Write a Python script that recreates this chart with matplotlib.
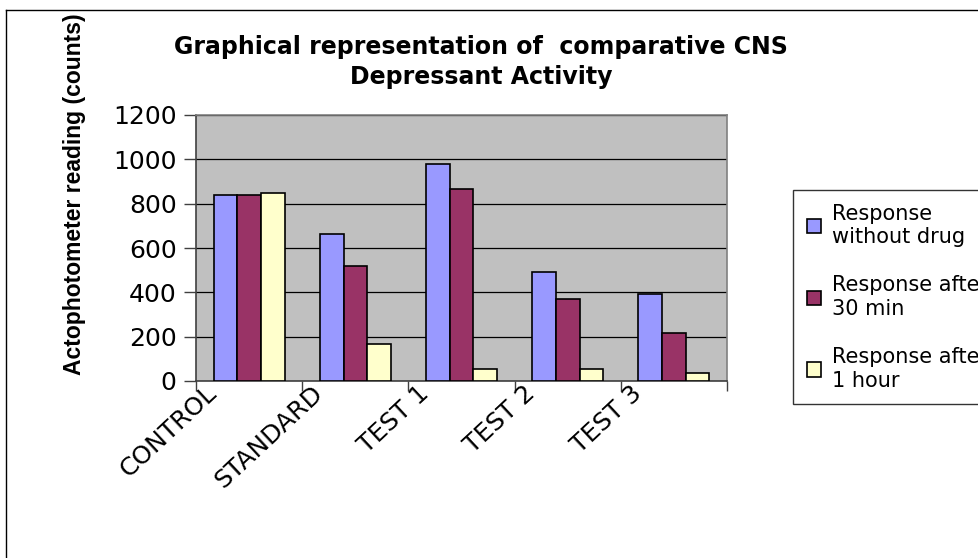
import matplotlib
matplotlib.use("Agg")
import matplotlib.pyplot as plt
import matplotlib.transforms as mtransforms
from matplotlib.lines import Line2D
from matplotlib.patches import Rectangle
from matplotlib.legend_handler import HandlerPatch
import numpy as np
from matplotlib import font_manager

categories = ["CONTROL", "STANDARD", "TEST 1", "TEST 2", "TEST 3"]
series_names = ["Response\nwithout drug", "Response after\n30 min", "Response after\n1 hour"]
without_drug = [839, 664, 981, 490, 392]
after_30min = [839, 518, 867, 371, 216]
after_1hour = [847, 167, 56, 56, 35]
series_values = [without_drug, after_30min, after_1hour]
colors = ["#9999FF", "#993366", "#FFFFCC"]
y_ticks = [0, 200, 400, 600, 800, 1000, 1200]

W, H = 979, 558
fig = plt.figure(figsize=(W / 100, H / 100), dpi=100)
fig.patch.set_facecolor("white")

main_font = "DejaVu Sans"
names = {f.name for f in font_manager.fontManager.ttflist}
ylab_font = "Liberation Sans Narrow" if "Liberation Sans Narrow" in names else "Liberation Sans"

# outer chart border (top and left visible)
fig.add_artist(Line2D([6 / W, 1.0], [1 - 10 / H, 1 - 10 / H], color="black", lw=1, transform=fig.transFigure))
fig.add_artist(Line2D([6 / W, 6 / W], [1 - 10 / H, 0], color="black", lw=1, transform=fig.transFigure))

left, right, top, bottom = 196, 727, 115, 381
ax = fig.add_axes([left / W, 1 - bottom / H, (right - left) / W, (bottom - top) / H])
ax.set_facecolor("#C0C0C0")

n = len(categories)
x = np.arange(n)
bw = 1 / 4.5
for i, (vals, c) in enumerate(zip(series_values, colors)):
    ax.bar(x + (i - 1) * bw, vals, width=bw, color=c, edgecolor="black", linewidth=1.2,
           label=series_names[i], zorder=3)

ax.set_xlim(-0.5, n - 0.5)
ax.set_ylim(0, 1200)
ax.set_yticks(y_ticks)
ax.set_yticklabels([str(v) for v in y_ticks], fontsize=18, family=main_font)
ax.yaxis.grid(True, color="black", lw=0.9, zorder=1)
ax.set_axisbelow(True)
ax.tick_params(axis="y", direction="out", length=9, width=1, color="#404040", pad=5)

ax.set_xticks(np.arange(n + 1) - 0.5)
ax.set_xticklabels([])
ax.tick_params(axis="x", direction="out", length=7, width=1, color="#404040")
ax.set_xticks(x, minor=True)
ax.set_xticklabels(categories, minor=True, rotation=43, ha="right", va="top",
                   rotation_mode="anchor", fontsize=18, family=main_font)
ax.tick_params(axis="x", which="minor", length=0, pad=0)
offset = mtransforms.ScaledTranslation(-44 / 100, 0 / 100, fig.dpi_scale_trans)
for lab in ax.get_xticklabels(minor=True):
    lab.set_transform(lab.get_transform() + offset)

for s in ["left", "bottom"]:
    ax.spines[s].set_color("#404040")
    ax.spines[s].set_linewidth(1.2)
for s in ["top", "right"]:
    ax.spines[s].set_color("#808080")
    ax.spines[s].set_linewidth(1.2)

fig.text(481 / W, 1 - 62 / H, "Graphical representation of  comparative CNS\nDepressant Activity",
         ha="center", va="center", fontsize=17, fontweight="bold", family=main_font, linespacing=1.32)

fig.text(75 / W, 1 - 194 / H, "Actophotometer reading (counts)", rotation=90, ha="center", va="center",
         fontsize=16.5, fontweight="bold", family=ylab_font)


def shifted_square(legend, orig_handle, xdescent, ydescent, width, height, fontsize):
    return Rectangle((-xdescent, -ydescent + 0.55 * fontsize), width, height)


handles, labels = ax.get_legend_handles_labels()
leg = fig.legend(handles, labels, loc="upper left", bbox_to_anchor=(793 / W, 1 - 190 / H),
                 frameon=True, fancybox=False, shadow=False,
                 prop={"family": main_font, "size": 15},
                 handlelength=0.7, handleheight=0.7, handletextpad=0.5, labelspacing=1.38,
                 borderpad=0.65, borderaxespad=0,
                 handler_map={Rectangle: HandlerPatch(patch_func=shifted_square)})
leg.get_frame().set_edgecolor("black")
leg.get_frame().set_linewidth(1)
for p in leg.get_patches():
    p.set_linewidth(1.2)

fig.savefig("out.png", dpi=100)
